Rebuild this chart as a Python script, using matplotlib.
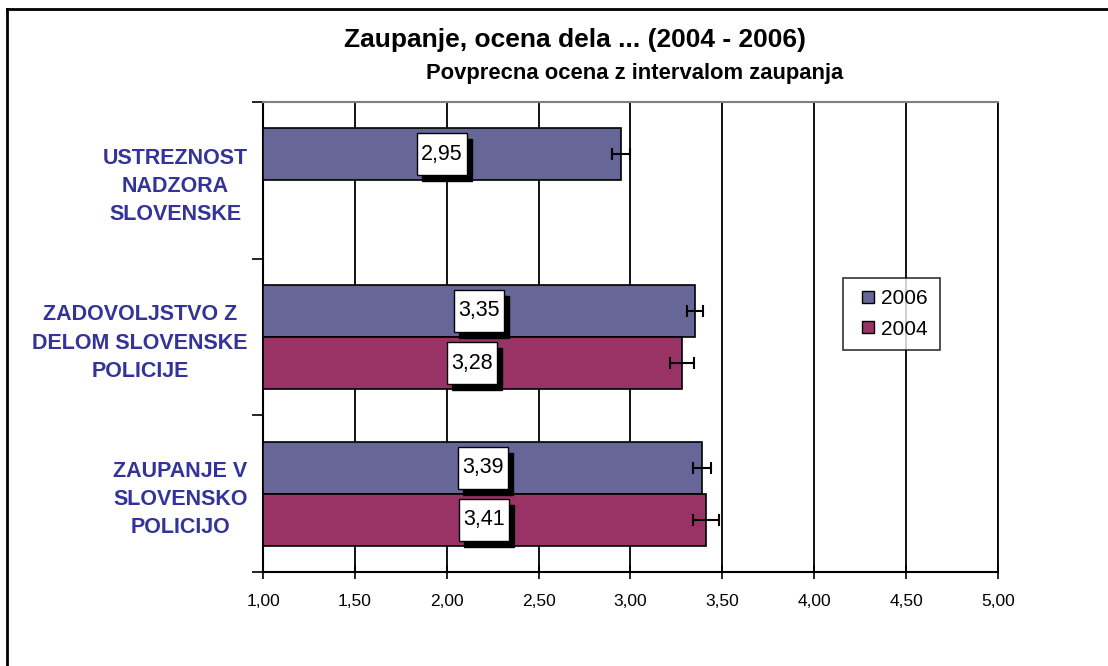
import numpy as np
import matplotlib
matplotlib.use("Agg")
import matplotlib.pyplot as plt
from matplotlib.patches import Rectangle
from matplotlib.lines import Line2D
from matplotlib.offsetbox import DrawingArea, AnnotationBbox

plt.rcParams['font.family'] = ['Liberation Sans', 'DejaVu Sans']

# ---- data ----
categories = ["USTREZNOST\nNADZORA\nSLOVENSKE",
              "ZADOVOLJSTVO Z\nDELOM SLOVENSKE\nPOLICIJE",
              "ZAUPANJE V\nSLOVENSKO\nPOLICIJO"]
series_names = ["2006", "2004"]
values_2006 = [2.95, 3.35, 3.39]
errors_2006 = [0.05, 0.045, 0.05]
values_2004 = [np.nan, 3.28, 3.41]
errors_2004 = [np.nan, 0.065, 0.07]
x_ticks = [1.00, 1.50, 2.00, 2.50, 3.00, 3.50, 4.00, 4.50, 5.00]
title = "Zaupanje, ocena dela ... (2004 - 2006)"
subtitle = "Povprecna ocena z intervalom zaupanja"

col_2006 = "#666699"
col_2004 = "#993366"
label_col = "#333399"

W, H = 1108, 666
DPI = 100
fig = plt.figure(figsize=(W / DPI, H / DPI), dpi=DPI)
ax = fig.add_axes([263 / W, 1 - 572 / H, (998 - 263) / W, (572 - 102) / H])

n = len(categories)
yc = np.arange(n)[::-1].astype(float)  # top category at top
h = 0.332
base = 1.0

px2pt = 72.0 / DPI
box_w, box_h = 50 * px2pt, 42 * px2pt


def label_box(xy, offset_px, fc, z):
    da = DrawingArea(box_w, box_h, 0, 0)
    da.add_artist(Rectangle((0, 0), box_w, box_h, facecolor=fc,
                            edgecolor='black', linewidth=1))
    ab = AnnotationBbox(da, xy, xybox=offset_px, boxcoords='offset pixels',
                        frameon=False, pad=0, box_alignment=(0.5, 0.5))
    ab.set_zorder(z)
    ax.add_artist(ab)


series = [(values_2006, errors_2006, col_2006, +h / 2),
          (values_2004, errors_2004, col_2004, -h / 2)]

for vals, errs, col, off in series:
    vals = np.array(vals, dtype=float)
    errs = np.array(errs, dtype=float)
    ypos = yc + off
    mask = ~np.isnan(vals)
    ax.barh(ypos[mask], vals[mask] - base, left=base, height=h, color=col,
            edgecolor='black', linewidth=1.2, zorder=3)
    ax.errorbar(vals[mask], ypos[mask], xerr=errs[mask], fmt='none',
                ecolor='black', elinewidth=1.5, capsize=4, capthick=1.5, zorder=4)
    for v, y in zip(vals[mask], ypos[mask]):
        txt = f"{v:.2f}".replace('.', ',')
        xm = (base + v) / 2
        label_box((xm, y), (5, -6), 'black', 5)
        label_box((xm, y), (0, 0), 'white', 6)
        ax.annotate(txt, (xm, y), xytext=(0, 0), textcoords='offset pixels',
                    ha='center', va='center', fontsize=15.5, color='black',
                    zorder=7)

ax.set_xlim(1, 5)
ax.set_ylim(-0.5, n - 0.5)
ax.set_xticks(x_ticks)
ax.set_xticklabels([f"{t:.2f}".replace('.', ',') for t in x_ticks], fontsize=12.5)
ax.tick_params(axis='x', direction='inout', length=10, width=1.2, pad=11)
ax.xaxis.grid(True, color='black', linewidth=1.3, zorder=0)
ax.set_axisbelow(True)

ax.set_yticks(yc)
ax.set_yticklabels(categories, fontsize=15.5, fontweight='bold', color=label_col,
                   linespacing=1.45)
for lab in ax.get_yticklabels():
    lab.set_multialignment('center')
ax.tick_params(axis='y', length=0, pad=11)
ax.set_yticks(np.arange(-0.5, n, 1.0), minor=True)
ax.tick_params(axis='y', which='minor', length=8, width=1.2, direction='out')

ax.spines['left'].set_linewidth(1.5)
ax.spines['bottom'].set_linewidth(1.5)
ax.spines['top'].set_color('#808080')
ax.spines['top'].set_linewidth(1.5)
ax.spines['right'].set_color('black')
ax.spines['right'].set_linewidth(1.3)

handles = [Line2D([], [], ls='none', marker='s', markersize=8.5, markerfacecolor=col_2006,
                  markeredgecolor='black', markeredgewidth=1, label=series_names[0]),
           Line2D([], [], ls='none', marker='s', markersize=8.5, markerfacecolor=col_2004,
                  markeredgecolor='black', markeredgewidth=1, label=series_names[1])]
leg = ax.legend(handles=handles, loc='upper left', bbox_to_anchor=(0.789, 0.626),
                borderaxespad=0, fontsize=15, frameon=True, fancybox=False,
                edgecolor='black', handlelength=1.3, handletextpad=0.0,
                borderpad=0.55, labelspacing=0.55)
leg.get_frame().set_linewidth(1.2)
leg.set_zorder(10)

fig.text(575 / W, 1 - 40 / H, title, ha='center', va='center', fontsize=19,
         fontweight='bold')
fig.text(635 / W, 1 - 74 / H, subtitle, ha='center', va='center', fontsize=15.8,
         fontweight='bold')

# outer (cropped) border: top and left lines
fig.add_artist(Line2D([7 / W, 1.0], [1 - 9 / H, 1 - 9 / H], transform=fig.transFigure,
                      color='black', linewidth=2))
fig.add_artist(Line2D([7 / W, 7 / W], [0, 1 - 9 / H], transform=fig.transFigure,
                      color='black', linewidth=2))

fig.savefig("out.png", dpi=DPI)
